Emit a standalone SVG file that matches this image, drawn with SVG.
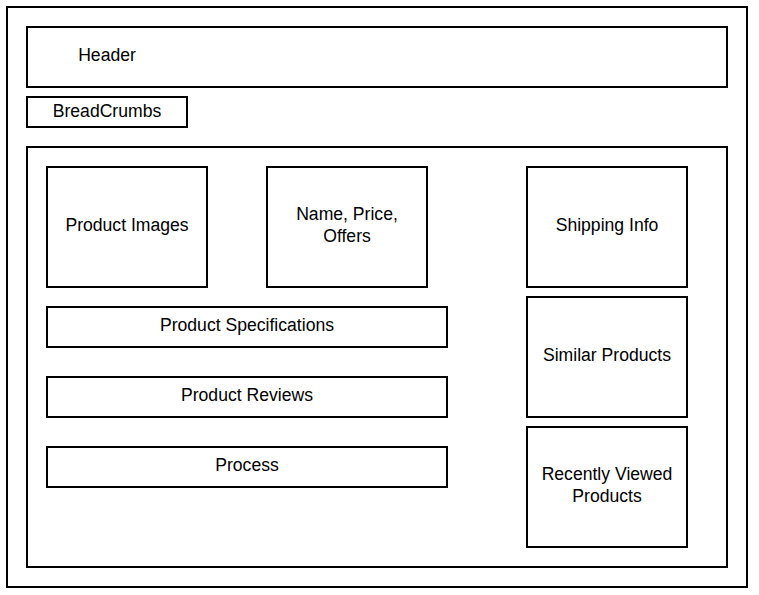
<svg xmlns="http://www.w3.org/2000/svg" width="759" height="595" viewBox="0 0 759 595">
<style>
rect{fill:#fff;stroke:#000;stroke-width:2}
text{font-family:"Liberation Sans",Arial,sans-serif;font-size:17.6px;fill:#000;text-anchor:middle}
</style>
<rect x="0" y="0" width="759" height="595" style="stroke:none"/>
<g id="page"><rect x="7" y="7" width="740" height="580"/></g>
<g id="header"><rect x="27" y="27" width="700" height="60"/><text x="107" y="61">Header</text></g>
<g id="breadcrumbs"><rect x="27" y="97" width="160" height="30"/><text x="107" y="117">BreadCrumbs</text></g>
<g id="main"><rect x="27" y="147" width="700" height="420"/></g>
<g id="product-images"><rect x="47" y="167" width="160" height="120"/><text x="127" y="231">Product Images</text></g>
<g id="name-price"><rect x="267" y="167" width="160" height="120"/><text x="347" y="220">Name, Price,</text><text x="347" y="242">Offers</text></g>
<g id="shipping"><rect x="527" y="167" width="160" height="120"/><text x="607" y="231">Shipping Info</text></g>
<g id="similar"><rect x="527" y="297" width="160" height="120"/><text x="607" y="361">Similar Products</text></g>
<g id="recent"><rect x="527" y="427" width="160" height="120"/><text x="607" y="480">Recently Viewed</text><text x="607" y="502">Products</text></g>
<g id="specs"><rect x="47" y="307" width="400" height="40"/><text x="247" y="331">Product Specifications</text></g>
<g id="reviews"><rect x="47" y="377" width="400" height="40"/><text x="247" y="401">Product Reviews</text></g>
<g id="process"><rect x="47" y="447" width="400" height="40"/><text x="247" y="471">Process</text></g>
<g id="connectors"></g>
</svg>
